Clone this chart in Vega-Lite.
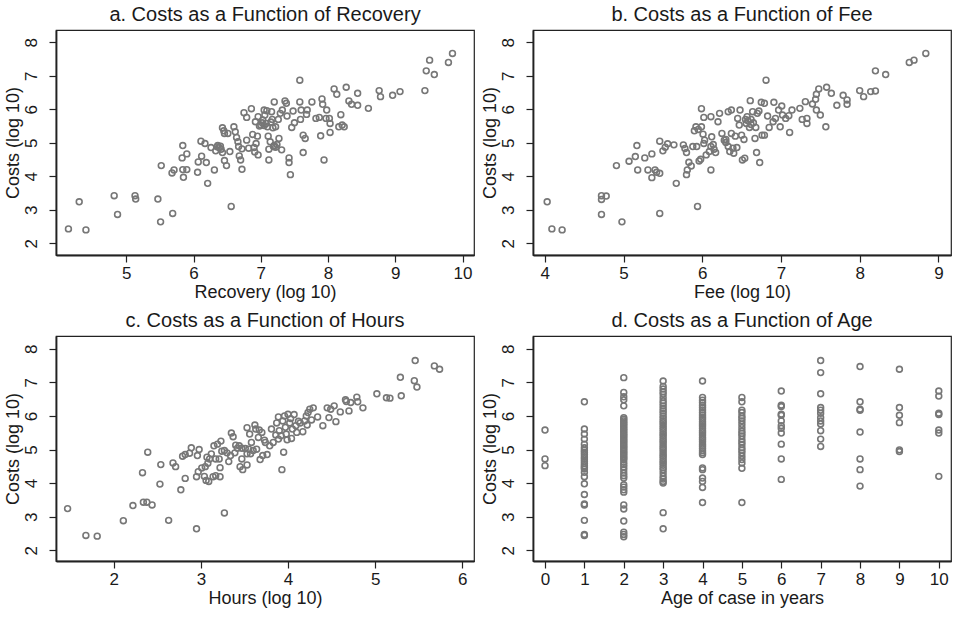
{
  "$schema": "https://vega.github.io/schema/vega-lite/v6.json",
  "padding": {"left": 3, "top": 4, "right": 0, "bottom": 0},
  "background": "white",
  "datasets": {
    "recovery": [
      {"recovery":4.14,"costs":2.43},{"recovery":4.30,"costs":3.24},{"recovery":4.40,"costs":2.40},{"recovery":4.82,"costs":3.42},{"recovery":4.87,"costs":2.86},{"recovery":5.13,"costs":3.42},{"recovery":5.14,"costs":3.32},{"recovery":5.47,"costs":3.32},{"recovery":5.51,"costs":2.64},{"recovery":5.52,"costs":4.32},{"recovery":5.69,"costs":2.89},{"recovery":5.68,"costs":4.10},{"recovery":5.71,"costs":4.19},{"recovery":5.84,"costs":4.92},{"recovery":5.83,"costs":4.55},{"recovery":5.84,"costs":4.20},{"recovery":5.85,"costs":3.97},{"recovery":5.90,"costs":4.67},{"recovery":5.90,"costs":4.20},{"recovery":6.06,"costs":4.12},{"recovery":6.07,"costs":4.43},{"recovery":6.11,"costs":5.05},{"recovery":6.12,"costs":4.60},{"recovery":6.17,"costs":4.98},{"recovery":6.19,"costs":4.41},{"recovery":6.21,"costs":3.79},{"recovery":6.26,"costs":4.86},{"recovery":6.31,"costs":4.19},{"recovery":6.33,"costs":4.76},{"recovery":6.36,"costs":4.92},{"recovery":6.38,"costs":4.86},{"recovery":6.41,"costs":4.81},{"recovery":6.43,"costs":5.45},{"recovery":6.45,"costs":5.36},{"recovery":6.46,"costs":5.28},{"recovery":6.43,"costs":4.71},{"recovery":6.46,"costs":4.47},{"recovery":6.49,"costs":4.32},{"recovery":6.51,"costs":5.28},{"recovery":6.54,"costs":4.74},{"recovery":6.56,"costs":3.10},{"recovery":6.60,"costs":5.48},{"recovery":6.62,"costs":5.33},{"recovery":6.64,"costs":5.16},{"recovery":6.66,"costs":5.03},{"recovery":6.67,"costs":4.89},{"recovery":6.68,"costs":4.61},{"recovery":6.70,"costs":4.49},{"recovery":6.72,"costs":4.21},{"recovery":6.72,"costs":4.82},{"recovery":6.75,"costs":5.90},{"recovery":6.79,"costs":5.76},{"recovery":6.79,"costs":5.08},{"recovery":6.82,"costs":4.84},{"recovery":6.86,"costs":6.02},{"recovery":6.88,"costs":5.25},{"recovery":6.90,"costs":4.86},{"recovery":6.91,"costs":4.73},{"recovery":6.92,"costs":5.63},{"recovery":6.93,"costs":4.98},{"recovery":6.95,"costs":5.20},{"recovery":6.96,"costs":4.64},{"recovery":6.96,"costs":5.78},{"recovery":7.00,"costs":5.53},{"recovery":7.03,"costs":5.68},{"recovery":7.05,"costs":5.98},{"recovery":7.06,"costs":5.83},{"recovery":7.08,"costs":5.58},{"recovery":7.10,"costs":5.48},{"recovery":7.11,"costs":5.20},{"recovery":7.12,"costs":4.81},{"recovery":7.12,"costs":4.49},{"recovery":7.14,"costs":5.03},{"recovery":7.16,"costs":5.93},{"recovery":7.17,"costs":5.70},{"recovery":7.19,"costs":4.89},{"recovery":7.20,"costs":6.22},{"recovery":7.22,"costs":5.48},{"recovery":7.24,"costs":4.95},{"recovery":7.26,"costs":5.70},{"recovery":7.27,"costs":5.13},{"recovery":7.29,"costs":5.88},{"recovery":7.31,"costs":4.79},{"recovery":7.32,"costs":5.98},{"recovery":7.36,"costs":6.25},{"recovery":7.38,"costs":6.18},{"recovery":7.39,"costs":5.80},{"recovery":7.42,"costs":4.55},{"recovery":7.42,"costs":4.41},{"recovery":7.44,"costs":4.05},{"recovery":7.46,"costs":5.46},{"recovery":7.48,"costs":5.95},{"recovery":7.50,"costs":5.60},{"recovery":7.58,"costs":6.87},{"recovery":7.58,"costs":6.22},{"recovery":7.59,"costs":5.70},{"recovery":7.60,"costs":5.98},{"recovery":7.63,"costs":4.71},{"recovery":7.63,"costs":5.23},{"recovery":7.66,"costs":5.13},{"recovery":7.68,"costs":5.85},{"recovery":7.69,"costs":5.98},{"recovery":7.76,"costs":6.22},{"recovery":7.82,"costs":5.73},{"recovery":7.87,"costs":5.76},{"recovery":7.89,"costs":5.21},{"recovery":7.91,"costs":6.31},{"recovery":7.92,"costs":6.15},{"recovery":7.94,"costs":4.49},{"recovery":7.97,"costs":5.73},{"recovery":7.98,"costs":5.98},{"recovery":8.02,"costs":5.73},{"recovery":8.03,"costs":5.58},{"recovery":8.03,"costs":5.31},{"recovery":8.09,"costs":6.61},{"recovery":8.13,"costs":6.45},{"recovery":8.16,"costs":5.48},{"recovery":8.19,"costs":5.84},{"recovery":8.21,"costs":5.53},{"recovery":8.24,"costs":5.48},{"recovery":8.27,"costs":6.66},{"recovery":8.31,"costs":6.25},{"recovery":8.35,"costs":6.15},{"recovery":8.44,"costs":6.48},{"recovery":8.44,"costs":6.12},{"recovery":8.60,"costs":6.03},{"recovery":8.76,"costs":6.56},{"recovery":8.78,"costs":6.38},{"recovery":8.96,"costs":6.42},{"recovery":9.07,"costs":6.53},{"recovery":9.44,"costs":6.56},{"recovery":9.46,"costs":7.15},{"recovery":9.51,"costs":7.47},{"recovery":9.58,"costs":7.04},{"recovery":9.79,"costs":7.40},{"recovery":9.85,"costs":7.67},
      {"recovery":7.02,"costs":5.60},{"recovery":7.05,"costs":5.52},{"recovery":7.15,"costs":5.62},{"recovery":7.20,"costs":4.92},{"recovery":7.22,"costs":4.87},{"recovery":7.18,"costs":5.45},{"recovery":6.98,"costs":5.50},{"recovery":7.09,"costs":5.96},{"recovery":6.40,"costs":4.90},{"recovery":6.35,"costs":4.88}
    ],
    "fee": [
      {"fee":4.03,"costs":3.24},{"fee":4.09,"costs":2.43},{"fee":4.22,"costs":2.40},{"fee":4.72,"costs":3.42},{"fee":4.72,"costs":3.31},{"fee":4.78,"costs":3.41},{"fee":4.72,"costs":2.86},{"fee":4.91,"costs":4.32},{"fee":4.98,"costs":2.64},{"fee":5.07,"costs":4.45},{"fee":5.15,"costs":4.59},{"fee":5.17,"costs":4.92},{"fee":5.18,"costs":4.19},{"fee":5.27,"costs":4.55},{"fee":5.31,"costs":4.19},{"fee":5.36,"costs":4.67},{"fee":5.36,"costs":3.96},{"fee":5.40,"costs":4.19},{"fee":5.42,"costs":4.12},{"fee":5.46,"costs":4.09},{"fee":5.46,"costs":5.05},{"fee":5.46,"costs":2.89},{"fee":5.50,"costs":4.76},{"fee":5.53,"costs":4.87},{"fee":5.56,"costs":4.97},{"fee":5.64,"costs":4.94},{"fee":5.67,"costs":3.79},{"fee":5.76,"costs":4.94},{"fee":5.78,"costs":4.83},{"fee":5.80,"costs":4.71},{"fee":5.80,"costs":4.05},{"fee":5.81,"costs":4.19},{"fee":5.83,"costs":4.42},{"fee":5.86,"costs":4.31},{"fee":5.88,"costs":4.89},{"fee":5.90,"costs":5.36},{"fee":5.92,"costs":5.48},{"fee":5.93,"costs":4.89},{"fee":5.94,"costs":3.10},{"fee":5.96,"costs":4.46},{"fee":5.98,"costs":4.51},{"fee":5.99,"costs":6.02},{"fee":5.99,"costs":5.48},{"fee":6.01,"costs":5.26},{"fee":6.02,"costs":5.76},{"fee":6.02,"costs":4.98},{"fee":6.03,"costs":5.08},{"fee":6.05,"costs":4.64},{"fee":6.09,"costs":4.74},{"fee":6.11,"costs":5.78},{"fee":6.11,"costs":4.89},{"fee":6.11,"costs":4.19},{"fee":6.12,"costs":5.18},{"fee":6.15,"costs":4.81},{"fee":6.17,"costs":4.71},{"fee":6.20,"costs":5.63},{"fee":6.22,"costs":5.88},{"fee":6.25,"costs":5.28},{"fee":6.28,"costs":5.08},{"fee":6.30,"costs":5.01},{"fee":6.33,"costs":5.93},{"fee":6.33,"costs":4.89},{"fee":6.35,"costs":4.74},{"fee":6.37,"costs":5.98},{"fee":6.37,"costs":5.28},{"fee":6.39,"costs":4.84},{"fee":6.40,"costs":4.69},{"fee":6.42,"costs":5.20},{"fee":6.44,"costs":4.86},{"fee":6.45,"costs":5.73},{"fee":6.47,"costs":5.53},{"fee":6.48,"costs":5.98},{"fee":6.50,"costs":5.23},{"fee":6.51,"costs":4.49},{"fee":6.53,"costs":5.10},{"fee":6.54,"costs":4.54},{"fee":6.56,"costs":5.58},{"fee":6.57,"costs":5.78},{"fee":6.60,"costs":5.46},{"fee":6.61,"costs":6.26},{"fee":6.62,"costs":5.70},{"fee":6.64,"costs":5.93},{"fee":6.65,"costs":5.60},{"fee":6.67,"costs":5.13},{"fee":6.68,"costs":5.46},{"fee":6.69,"costs":4.71},{"fee":6.70,"costs":5.88},{"fee":6.72,"costs":5.95},{"fee":6.73,"costs":4.41},{"fee":6.75,"costs":6.21},{"fee":6.76,"costs":5.23},{"fee":6.79,"costs":5.23},{"fee":6.81,"costs":6.87},{"fee":6.79,"costs":6.18},{"fee":6.83,"costs":5.80},{"fee":6.85,"costs":5.46},{"fee":6.90,"costs":5.63},{"fee":6.91,"costs":6.21},{"fee":6.93,"costs":5.73},{"fee":6.97,"costs":5.98},{"fee":6.99,"costs":5.48},{"fee":7.01,"costs":6.10},{"fee":7.02,"costs":5.83},{"fee":7.06,"costs":5.73},{"fee":7.10,"costs":5.81},{"fee":7.11,"costs":5.31},{"fee":7.14,"costs":5.98},{"fee":7.24,"costs":6.03},{"fee":7.27,"costs":5.70},{"fee":7.31,"costs":6.23},{"fee":7.33,"costs":5.73},{"fee":7.33,"costs":5.58},{"fee":7.40,"costs":6.16},{"fee":7.44,"costs":6.30},{"fee":7.45,"costs":6.45},{"fee":7.45,"costs":5.98},{"fee":7.48,"costs":6.61},{"fee":7.50,"costs":5.83},{"fee":7.57,"costs":5.48},{"fee":7.58,"costs":6.66},{"fee":7.64,"costs":6.48},{"fee":7.71,"costs":6.12},{"fee":7.79,"costs":6.42},{"fee":7.84,"costs":6.28},{"fee":7.84,"costs":6.15},{"fee":8.00,"costs":6.56},{"fee":8.05,"costs":6.38},{"fee":8.14,"costs":6.53},{"fee":8.20,"costs":6.55},{"fee":8.20,"costs":7.15},{"fee":8.33,"costs":7.04},{"fee":8.63,"costs":7.40},{"fee":8.69,"costs":7.47},{"fee":8.84,"costs":7.67},
      {"fee":6.58,"costs":5.66},{"fee":6.62,"costs":5.55},{"fee":6.55,"costs":5.70},{"fee":6.30,"costs":5.10},{"fee":6.14,"costs":4.95},{"fee":5.95,"costs":5.40}
    ],
    "hours": [
      {"hours":1.47,"costs":3.24},{"hours":1.68,"costs":2.44},{"hours":1.81,"costs":2.42},{"hours":2.11,"costs":2.88},{"hours":2.22,"costs":3.33},{"hours":2.33,"costs":4.31},{"hours":2.34,"costs":3.43},{"hours":2.38,"costs":3.43},{"hours":2.39,"costs":4.92},{"hours":2.44,"costs":3.35},{"hours":2.53,"costs":3.97},{"hours":2.54,"costs":4.55},{"hours":2.63,"costs":2.89},{"hours":2.68,"costs":4.60},{"hours":2.71,"costs":4.49},{"hours":2.77,"costs":3.80},{"hours":2.79,"costs":4.80},{"hours":2.82,"costs":4.14},{"hours":2.82,"costs":4.85},{"hours":2.87,"costs":4.89},{"hours":2.89,"costs":5.05},{"hours":2.95,"costs":2.64},{"hours":2.95,"costs":4.19},{"hours":2.96,"costs":4.82},{"hours":2.98,"costs":5.00},{"hours":2.97,"costs":4.34},{"hours":3.01,"costs":4.45},{"hours":3.04,"costs":4.20},{"hours":3.05,"costs":4.49},{"hours":3.06,"costs":4.08},{"hours":3.08,"costs":4.59},{"hours":3.07,"costs":4.77},{"hours":3.09,"costs":4.05},{"hours":3.10,"costs":4.72},{"hours":3.12,"costs":4.87},{"hours":3.14,"costs":4.19},{"hours":3.15,"costs":5.11},{"hours":3.17,"costs":4.72},{"hours":3.17,"costs":4.22},{"hours":3.19,"costs":5.16},{"hours":3.21,"costs":4.72},{"hours":3.22,"costs":4.19},{"hours":3.22,"costs":4.46},{"hours":3.23,"costs":5.25},{"hours":3.24,"costs":4.95},{"hours":3.27,"costs":4.97},{"hours":3.27,"costs":3.11},{"hours":3.30,"costs":4.90},{"hours":3.32,"costs":4.64},{"hours":3.34,"costs":4.82},{"hours":3.35,"costs":5.49},{"hours":3.37,"costs":5.38},{"hours":3.39,"costs":4.90},{"hours":3.40,"costs":5.13},{"hours":3.42,"costs":5.04},{"hours":3.44,"costs":5.11},{"hours":3.45,"costs":4.49},{"hours":3.47,"costs":4.72},{"hours":3.47,"costs":5.04},{"hours":3.48,"costs":4.40},{"hours":3.51,"costs":5.03},{"hours":3.53,"costs":4.54},{"hours":3.53,"costs":5.65},{"hours":3.53,"costs":4.87},{"hours":3.55,"costs":5.01},{"hours":3.56,"costs":5.46},{"hours":3.57,"costs":4.87},{"hours":3.58,"costs":5.21},{"hours":3.60,"costs":4.97},{"hours":3.62,"costs":5.73},{"hours":3.63,"costs":5.61},{"hours":3.64,"costs":5.01},{"hours":3.66,"costs":5.36},{"hours":3.67,"costs":5.58},{"hours":3.68,"costs":4.70},{"hours":3.70,"costs":5.51},{"hours":3.71,"costs":4.82},{"hours":3.73,"costs":5.28},{"hours":3.74,"costs":5.21},{"hours":3.76,"costs":4.85},{"hours":3.79,"costs":5.11},{"hours":3.81,"costs":5.61},{"hours":3.83,"costs":5.21},{"hours":3.86,"costs":5.43},{"hours":3.87,"costs":5.79},{"hours":3.89,"costs":5.97},{"hours":3.89,"costs":5.31},{"hours":3.90,"costs":5.56},{"hours":3.92,"costs":5.41},{"hours":3.93,"costs":4.40},{"hours":3.94,"costs":5.85},{"hours":3.95,"costs":4.92},{"hours":3.96,"costs":6.00},{"hours":3.97,"costs":5.66},{"hours":3.98,"costs":5.46},{"hours":3.99,"costs":5.29},{"hours":4.00,"costs":6.05},{"hours":4.02,"costs":5.79},{"hours":4.03,"costs":5.92},{"hours":4.04,"costs":5.33},{"hours":4.05,"costs":5.61},{"hours":4.07,"costs":6.04},{"hours":4.09,"costs":5.71},{"hours":4.10,"costs":5.51},{"hours":4.12,"costs":5.84},{"hours":4.14,"costs":5.79},{"hours":4.17,"costs":5.53},{"hours":4.19,"costs":5.85},{"hours":4.21,"costs":6.00},{"hours":4.22,"costs":5.73},{"hours":4.23,"costs":6.10},{"hours":4.25,"costs":6.20},{"hours":4.27,"costs":5.88},{"hours":4.29,"costs":6.24},{"hours":4.34,"costs":5.97},{"hours":4.40,"costs":5.71},{"hours":4.45,"costs":6.24},{"hours":4.47,"costs":5.95},{"hours":4.49,"costs":6.20},{"hours":4.53,"costs":6.30},{"hours":4.55,"costs":5.83},{"hours":4.60,"costs":6.12},{"hours":4.66,"costs":6.48},{"hours":4.67,"costs":6.43},{"hours":4.70,"costs":6.15},{"hours":4.72,"costs":6.40},{"hours":4.79,"costs":6.56},{"hours":4.80,"costs":6.42},{"hours":4.86,"costs":6.24},{"hours":5.02,"costs":6.66},{"hours":5.13,"costs":6.54},{"hours":5.17,"costs":6.53},{"hours":5.29,"costs":7.15},{"hours":5.30,"costs":6.60},{"hours":5.45,"costs":7.05},{"hours":5.46,"costs":7.65},{"hours":5.48,"costs":6.86},{"hours":5.68,"costs":7.49},{"hours":5.74,"costs":7.39}
    ],
    "age": [
      {"age":0,"costs":5.58},{"age":0,"costs":4.72},{"age":0,"costs":4.52},
      {"age":1,"costs":6.42},{"age":1,"costs":5.61},{"age":1,"costs":5.46},{"age":1,"costs":5.31},{"age":1,"costs":5.16},{"age":1,"costs":5.05},{"age":1,"costs":4.98},{"age":1,"costs":4.92},{"age":1,"costs":4.85},{"age":1,"costs":4.78},{"age":1,"costs":4.72},{"age":1,"costs":4.65},{"age":1,"costs":4.58},{"age":1,"costs":4.52},{"age":1,"costs":4.47},{"age":1,"costs":4.42},{"age":1,"costs":4.32},{"age":1,"costs":4.19},{"age":1,"costs":3.98},{"age":1,"costs":3.66},{"age":1,"costs":3.38},{"age":1,"costs":3.35},{"age":1,"costs":2.89},{"age":1,"costs":2.47},{"age":1,"costs":2.44},
      {"age":2,"costs":7.14},{"age":2,"costs":6.70},{"age":2,"costs":6.57},{"age":2,"costs":6.48},{"age":2,"costs":6.30},{"age":2,"costs":5.95},{"age":2,"costs":5.90},{"age":2,"costs":5.85},{"age":2,"costs":5.80},{"age":2,"costs":5.75},{"age":2,"costs":5.70},{"age":2,"costs":5.65},{"age":2,"costs":5.60},{"age":2,"costs":5.55},{"age":2,"costs":5.50},{"age":2,"costs":5.45},{"age":2,"costs":5.40},{"age":2,"costs":5.35},{"age":2,"costs":5.30},{"age":2,"costs":5.25},{"age":2,"costs":5.20},{"age":2,"costs":5.15},{"age":2,"costs":5.10},{"age":2,"costs":5.05},{"age":2,"costs":5.00},{"age":2,"costs":4.95},{"age":2,"costs":4.90},{"age":2,"costs":4.85},{"age":2,"costs":4.80},{"age":2,"costs":4.75},{"age":2,"costs":4.70},{"age":2,"costs":4.62},{"age":2,"costs":4.55},{"age":2,"costs":4.48},{"age":2,"costs":4.40},{"age":2,"costs":4.30},{"age":2,"costs":4.22},{"age":2,"costs":4.15},{"age":2,"costs":3.95},{"age":2,"costs":3.88},{"age":2,"costs":3.80},{"age":2,"costs":3.73},{"age":2,"costs":3.35},{"age":2,"costs":3.23},{"age":2,"costs":2.87},{"age":2,"costs":2.54},{"age":2,"costs":2.47},{"age":2,"costs":2.40},
      {"age":3,"costs":7.04},{"age":3,"costs":6.88},{"age":3,"costs":6.80},{"age":3,"costs":6.72},{"age":3,"costs":6.65},{"age":3,"costs":6.55},{"age":3,"costs":6.45},{"age":3,"costs":6.38},{"age":3,"costs":6.30},{"age":3,"costs":6.22},{"age":3,"costs":6.15},{"age":3,"costs":6.08},{"age":3,"costs":6.00},{"age":3,"costs":5.93},{"age":3,"costs":5.86},{"age":3,"costs":5.80},{"age":3,"costs":5.73},{"age":3,"costs":5.66},{"age":3,"costs":5.60},{"age":3,"costs":5.53},{"age":3,"costs":5.46},{"age":3,"costs":5.40},{"age":3,"costs":5.33},{"age":3,"costs":5.26},{"age":3,"costs":5.20},{"age":3,"costs":5.13},{"age":3,"costs":5.06},{"age":3,"costs":5.00},{"age":3,"costs":4.93},{"age":3,"costs":4.86},{"age":3,"costs":4.80},{"age":3,"costs":4.73},{"age":3,"costs":4.66},{"age":3,"costs":4.60},{"age":3,"costs":4.53},{"age":3,"costs":4.46},{"age":3,"costs":4.40},{"age":3,"costs":4.30},{"age":3,"costs":4.20},{"age":3,"costs":4.12},{"age":3,"costs":4.05},{"age":3,"costs":4.00},{"age":3,"costs":3.12},{"age":3,"costs":2.64},
      {"age":4,"costs":7.04},{"age":4,"costs":6.55},{"age":4,"costs":6.47},{"age":4,"costs":6.40},{"age":4,"costs":6.32},{"age":4,"costs":6.25},{"age":4,"costs":6.18},{"age":4,"costs":6.10},{"age":4,"costs":6.03},{"age":4,"costs":5.96},{"age":4,"costs":5.90},{"age":4,"costs":5.83},{"age":4,"costs":5.76},{"age":4,"costs":5.70},{"age":4,"costs":5.63},{"age":4,"costs":5.56},{"age":4,"costs":5.50},{"age":4,"costs":5.43},{"age":4,"costs":5.36},{"age":4,"costs":5.30},{"age":4,"costs":5.23},{"age":4,"costs":5.16},{"age":4,"costs":5.10},{"age":4,"costs":5.03},{"age":4,"costs":4.96},{"age":4,"costs":4.90},{"age":4,"costs":4.85},{"age":4,"costs":4.45},{"age":4,"costs":4.40},{"age":4,"costs":4.15},{"age":4,"costs":4.05},{"age":4,"costs":3.87},{"age":4,"costs":3.42},
      {"age":5,"costs":6.55},{"age":5,"costs":6.42},{"age":5,"costs":6.17},{"age":5,"costs":6.10},{"age":5,"costs":6.00},{"age":5,"costs":5.93},{"age":5,"costs":5.85},{"age":5,"costs":5.75},{"age":5,"costs":5.65},{"age":5,"costs":5.55},{"age":5,"costs":5.48},{"age":5,"costs":5.40},{"age":5,"costs":5.30},{"age":5,"costs":5.22},{"age":5,"costs":5.15},{"age":5,"costs":5.05},{"age":5,"costs":4.98},{"age":5,"costs":4.90},{"age":5,"costs":4.80},{"age":5,"costs":4.70},{"age":5,"costs":4.60},{"age":5,"costs":4.44},{"age":5,"costs":3.42},
      {"age":6,"costs":6.74},{"age":6,"costs":6.32},{"age":6,"costs":6.28},{"age":6,"costs":6.05},{"age":6,"costs":6.02},{"age":6,"costs":5.85},{"age":6,"costs":5.71},{"age":6,"costs":5.63},{"age":6,"costs":5.49},{"age":6,"costs":5.16},{"age":6,"costs":4.72},{"age":6,"costs":4.11},
      {"age":7,"costs":7.65},{"age":7,"costs":7.29},{"age":7,"costs":6.66},{"age":7,"costs":6.25},{"age":7,"costs":6.17},{"age":7,"costs":6.08},{"age":7,"costs":5.95},{"age":7,"costs":5.85},{"age":7,"costs":5.76},{"age":7,"costs":5.56},{"age":7,"costs":5.31},{"age":7,"costs":5.09},
      {"age":8,"costs":7.47},{"age":8,"costs":6.42},{"age":8,"costs":6.20},{"age":8,"costs":6.17},{"age":8,"costs":5.52},{"age":8,"costs":4.72},{"age":8,"costs":4.40},{"age":8,"costs":3.91},
      {"age":9,"costs":7.39},{"age":9,"costs":6.25},{"age":9,"costs":6.02},{"age":9,"costs":5.80},{"age":9,"costs":4.99},{"age":9,"costs":4.94},
      {"age":10,"costs":6.74},{"age":10,"costs":6.59},{"age":10,"costs":6.08},{"age":10,"costs":6.04},{"age":10,"costs":5.58},{"age":10,"costs":5.49},{"age":10,"costs":4.20}
    ]
  },
  "spacing": 8,
  "vconcat": [
    {
      "spacing": 5,
      "hconcat": [
        {
          "title": "a. Costs as a Function of Recovery",
          "width": 418, "height": 225,
          "data": {"name": "recovery"},
          "mark": {"type": "point", "shape": "circle", "filled": false, "size": 34, "strokeWidth": 1.6, "color": "#777777", "opacity": 1},
          "encoding": {
            "x": {"field": "recovery", "type": "quantitative", "title": "Recovery (log 10)", "scale": {"domain": [3.955, 10.17], "nice": false, "zero": false}, "axis": {"values": [5, 6, 7, 8, 9, 10]}},
            "y": {"field": "costs", "type": "quantitative", "title": "Costs (log 10)", "scale": {"domain": [1.65, 8.37], "nice": false, "zero": false}, "axis": {"values": [2, 3, 4, 5, 6, 7, 8]}}
          }
        },
        {
          "title": "b. Costs as a Function of Fee",
          "width": 418, "height": 225,
          "data": {"name": "fee"},
          "mark": {"type": "point", "shape": "circle", "filled": false, "size": 34, "strokeWidth": 1.6, "color": "#777777", "opacity": 1},
          "encoding": {
            "x": {"field": "fee", "type": "quantitative", "title": "Fee (log 10)", "scale": {"domain": [3.85, 9.16], "nice": false, "zero": false}, "axis": {"values": [4, 5, 6, 7, 8, 9]}},
            "y": {"field": "costs", "type": "quantitative", "title": "Costs (log 10)", "scale": {"domain": [1.65, 8.37], "nice": false, "zero": false}, "axis": {"values": [2, 3, 4, 5, 6, 7, 8]}}
          }
        }
      ]
    },
    {
      "spacing": 5,
      "hconcat": [
        {
          "title": "c. Costs as a Function of Hours",
          "width": 418, "height": 225,
          "data": {"name": "hours"},
          "mark": {"type": "point", "shape": "circle", "filled": false, "size": 34, "strokeWidth": 1.6, "color": "#777777", "opacity": 1},
          "encoding": {
            "x": {"field": "hours", "type": "quantitative", "title": "Hours (log 10)", "scale": {"domain": [1.337, 6.135], "nice": false, "zero": false}, "axis": {"values": [2, 3, 4, 5, 6]}},
            "y": {"field": "costs", "type": "quantitative", "title": "Costs (log 10)", "scale": {"domain": [1.68, 8.38], "nice": false, "zero": false}, "axis": {"values": [2, 3, 4, 5, 6, 7, 8]}}
          }
        },
        {
          "title": "d. Costs as a Function of Age",
          "width": 418, "height": 225,
          "data": {"name": "age"},
          "mark": {"type": "point", "shape": "circle", "filled": false, "size": 34, "strokeWidth": 1.6, "color": "#777777", "opacity": 1},
          "encoding": {
            "x": {"field": "age", "type": "quantitative", "title": "Age of case in years", "scale": {"domain": [-0.305, 10.31], "nice": false, "zero": false}, "axis": {"values": [0, 1, 2, 3, 4, 5, 6, 7, 8, 9, 10]}},
            "y": {"field": "costs", "type": "quantitative", "title": "Costs (log 10)", "scale": {"domain": [1.68, 8.38], "nice": false, "zero": false}, "axis": {"values": [2, 3, 4, 5, 6, 7, 8]}}
          }
        }
      ]
    }
  ],
  "config": {
    "font": "Liberation Sans",
    "view": {"stroke": "#222222", "strokeWidth": 1.2},
    "title": {"fontSize": 20, "fontWeight": "normal", "color": "#1a1a1a", "offset": 5, "anchor": "middle", "font": "Liberation Sans"},
    "axis": {"grid": false, "domainColor": "#222222", "domainWidth": 1.8, "tickColor": "#222222", "tickWidth": 1.2, "tickSize": 7, "labelColor": "#1a1a1a", "titleColor": "#1a1a1a", "labelFontSize": 17, "titleFontSize": 18, "titleFontWeight": "normal", "labelFont": "Liberation Sans", "titleFont": "Liberation Sans", "labelPadding": 3, "titlePadding": 2},
    "axisY": {"labelAngle": -90, "labelAlign": "center", "labelBaseline": "bottom", "labelPadding": 9, "titlePadding": 0}
  }
}
